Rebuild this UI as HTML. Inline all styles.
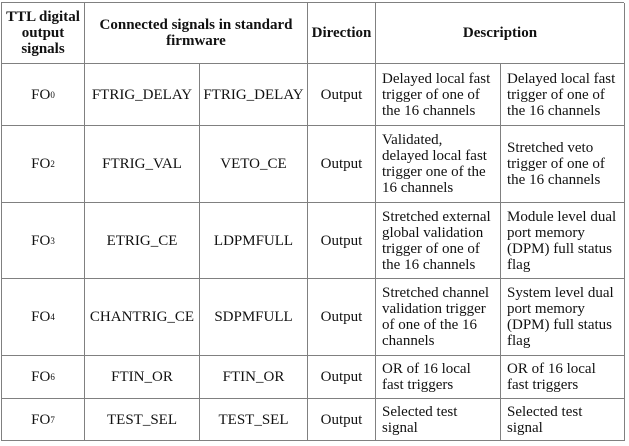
<!DOCTYPE html>
<html><head><style>
body{margin:0;width:629px;height:446px;background:#fff;position:relative;font-family:"Liberation Serif","Times New Roman","DejaVu Serif",serif;font-size:15px;color:#111;overflow:hidden}
.c{position:absolute;box-sizing:border-box;display:flex;align-items:center;justify-content:center;text-align:center;line-height:16px;border-right:1.5px solid #808080;border-bottom:1.5px solid #808080;white-space:nowrap}
.l{justify-content:flex-start;text-align:left;padding-left:6px}
b{font-weight:bold;font-size:15px}
sub{font-size:9px;vertical-align:-2px}
#frame{position:absolute;left:1px;top:2px;width:623px;height:439px;border-left:1.5px solid #808080;border-top:1.5px solid #808080;box-sizing:border-box}
</style></head><body>
<div id="frame"></div>
<div class="c" style="left:2px;top:3px;width:83px;height:61px"><b>TTL digital<br>output<br>signals</b></div>
<div class="c" style="left:85px;top:3px;width:223px;height:61px"><b>Connected signals in standard<br>firmware</b></div>
<div class="c" style="left:308px;top:3px;width:68px;height:61px"><b>Direction</b></div>
<div class="c" style="left:376px;top:3px;width:249px;height:61px"><b>Description</b></div>

<div class="c" style="left:2px;top:64px;width:83px;height:62px">FO<sub>0</sub></div>
<div class="c" style="left:85px;top:64px;width:115px;height:62px">FTRIG_DELAY</div>
<div class="c" style="left:200px;top:64px;width:108px;height:62px">FTRIG_DELAY</div>
<div class="c" style="left:308px;top:64px;width:68px;height:62px">Output</div>
<div class="c l" style="left:376px;top:64px;width:125px;height:62px">Delayed local fast<br>trigger of one of<br>the 16 channels</div>
<div class="c l" style="left:501px;top:64px;width:124px;height:62px">Delayed local fast<br>trigger of one of<br>the 16 channels</div>

<div class="c" style="left:2px;top:126px;width:83px;height:77px">FO<sub>2</sub></div>
<div class="c" style="left:85px;top:126px;width:115px;height:77px">FTRIG_VAL</div>
<div class="c" style="left:200px;top:126px;width:108px;height:77px">VETO_CE</div>
<div class="c" style="left:308px;top:126px;width:68px;height:77px">Output</div>
<div class="c l" style="left:376px;top:126px;width:125px;height:77px">Validated,<br>delayed local fast<br>trigger one of the<br>16 channels</div>
<div class="c l" style="left:501px;top:126px;width:124px;height:77px">Stretched veto<br>trigger of one of<br>the 16 channels</div>

<div class="c" style="left:2px;top:203px;width:83px;height:76px">FO<sub>3</sub></div>
<div class="c" style="left:85px;top:203px;width:115px;height:76px">ETRIG_CE</div>
<div class="c" style="left:200px;top:203px;width:108px;height:76px">LDPMFULL</div>
<div class="c" style="left:308px;top:203px;width:68px;height:76px">Output</div>
<div class="c l" style="left:376px;top:203px;width:125px;height:76px">Stretched external<br>global validation<br>trigger of one of<br>the 16 channels</div>
<div class="c l" style="left:501px;top:203px;width:124px;height:76px">Module level dual<br>port memory<br>(DPM) full status<br>flag</div>

<div class="c" style="left:2px;top:279px;width:83px;height:77px">FO<sub>4</sub></div>
<div class="c" style="left:85px;top:279px;width:115px;height:77px">CHANTRIG_CE</div>
<div class="c" style="left:200px;top:279px;width:108px;height:77px">SDPMFULL</div>
<div class="c" style="left:308px;top:279px;width:68px;height:77px">Output</div>
<div class="c l" style="left:376px;top:279px;width:125px;height:77px">Stretched channel<br>validation trigger<br>of one of the 16<br>channels</div>
<div class="c l" style="left:501px;top:279px;width:124px;height:77px">System level dual<br>port memory<br>(DPM) full status<br>flag</div>

<div class="c" style="left:2px;top:356px;width:83px;height:43px">FO<sub>6</sub></div>
<div class="c" style="left:85px;top:356px;width:115px;height:43px">FTIN_OR</div>
<div class="c" style="left:200px;top:356px;width:108px;height:43px">FTIN_OR</div>
<div class="c" style="left:308px;top:356px;width:68px;height:43px">Output</div>
<div class="c l" style="left:376px;top:356px;width:125px;height:43px">OR of 16 local<br>fast triggers</div>
<div class="c l" style="left:501px;top:356px;width:124px;height:43px">OR of 16 local<br>fast triggers</div>

<div class="c" style="left:2px;top:399px;width:83px;height:42px">FO<sub>7</sub></div>
<div class="c" style="left:85px;top:399px;width:115px;height:42px">TEST_SEL</div>
<div class="c" style="left:200px;top:399px;width:108px;height:42px">TEST_SEL</div>
<div class="c" style="left:308px;top:399px;width:68px;height:42px">Output</div>
<div class="c l" style="left:376px;top:399px;width:125px;height:42px">Selected test<br>signal</div>
<div class="c l" style="left:501px;top:399px;width:124px;height:42px">Selected test<br>signal</div>
</body></html>
